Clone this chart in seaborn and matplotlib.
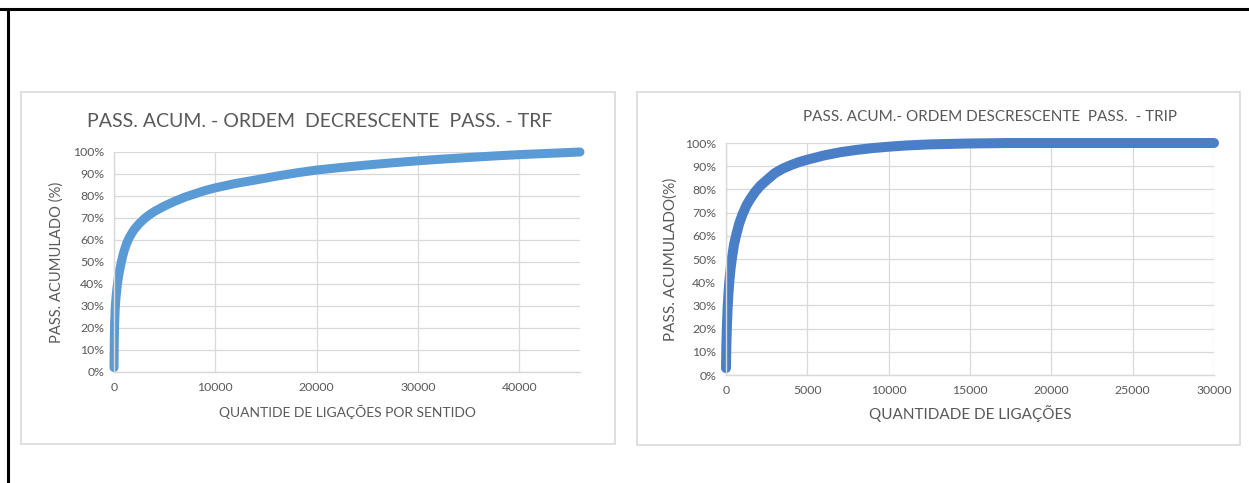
import matplotlib
matplotlib.use("Agg")
import matplotlib.pyplot as plt
from matplotlib.patches import Rectangle
from matplotlib.lines import Line2D
from matplotlib.ticker import PercentFormatter
import seaborn as sns
import pandas as pd

sns.set_theme(style="white")
plt.rcParams["font.family"] = ["Lato", "DejaVu Sans"]

# Cumulative passengers, links sorted by decreasing passenger count - TRF
trf_links = [0, 30, 60, 120, 200, 300, 400, 550, 700, 850, 1000, 1250, 1500,
             1750, 2000, 2500, 3000, 3500, 4000, 5000, 6000, 7000, 8000, 9000,
             10000, 12000, 14000, 16000, 18000, 20000, 22500, 25000, 27500,
             30000, 32500, 35000, 37500, 40000, 43000, 46000]
trf_pct = [0.02, 0.15, 0.22, 0.29, 0.34, 0.385, 0.42, 0.46, 0.495, 0.525,
           0.55, 0.585, 0.61, 0.63, 0.648, 0.675, 0.697, 0.715, 0.73, 0.755,
           0.776, 0.795, 0.81, 0.825, 0.837, 0.857, 0.873, 0.89, 0.905, 0.918,
           0.93, 0.941, 0.951, 0.96, 0.968, 0.975, 0.982, 0.988, 0.994, 1.0]

# Cumulative passengers, links sorted by decreasing passenger count - TRIP
trip_links = [0, 20, 50, 100, 150, 200, 300, 400, 500, 650, 800, 1000, 1250,
              1500, 1800, 2100, 2500, 3000, 3500, 4000, 4500, 5000, 6000,
              7000, 8000, 9000, 10000, 11000, 12500, 15000, 17500, 20000,
              25000, 30000]
trip_pct = [0.03, 0.12, 0.20, 0.29, 0.35, 0.40, 0.47, 0.52, 0.565, 0.61,
            0.65, 0.69, 0.73, 0.76, 0.79, 0.815, 0.84, 0.87, 0.89, 0.905,
            0.918, 0.928, 0.946, 0.96, 0.97, 0.978, 0.984, 0.989, 0.994,
            0.998, 1.0, 1.0, 1.0, 1.0]

y_ticks = [i / 10 for i in range(11)]
trf_xticks = [0, 10000, 20000, 30000, 40000]
trip_xticks = [0, 5000, 10000, 15000, 20000, 25000, 30000]

TEXT = "#595959"
GRID = "#D9D9D9"

W, H = 1249, 483
fig = plt.figure(figsize=(W / 100, H / 100), dpi=100)
fig.patch.set_facecolor("white")


def px_rect(x0, y0, x1, y1):
    return [x0 / W, 1 - y1 / H, (x1 - x0) / W, (y1 - y0) / H]


# outer page frame (top and left rules)
fig.add_artist(Line2D([0, 1], [1 - 9 / H, 1 - 9 / H], color="black", lw=2.2,
                      transform=fig.transFigure))
fig.add_artist(Line2D([8 / W, 8 / W], [0, 1 - 9 / H], color="black", lw=2.2,
                      transform=fig.transFigure))

# chart frames
for x0, y0, x1, y1 in [(21, 92, 615, 444), (637, 92, 1240, 445)]:
    fig.add_artist(Rectangle((x0 / W, 1 - y1 / H), (x1 - x0) / W, (y1 - y0) / H,
                             transform=fig.transFigure, facecolor="white",
                             edgecolor=GRID, lw=1.2, zorder=0))


def style_axes(ax, xlim, xticks, labelsize):
    ax.set_xlim(*xlim)
    ax.set_ylim(0, 1)
    ax.set_xticks(xticks)
    ax.set_yticks(y_ticks)
    ax.yaxis.set_major_formatter(PercentFormatter(1.0, decimals=0))
    ax.grid(True, color=GRID, lw=0.9)
    ax.set_axisbelow(True)
    for s in ["top", "right"]:
        ax.spines[s].set_visible(False)
    for s in ["left", "bottom"]:
        ax.spines[s].set_color(GRID)
        ax.spines[s].set_linewidth(1.0)
    ax.tick_params(axis="both", length=0, labelsize=labelsize,
                   labelcolor=TEXT, pad=7)
    ax.patch.set_alpha(0)


# TRF
ax1 = fig.add_axes(px_rect(114, 152, 580, 372))
df1 = pd.DataFrame({"links": trf_links, "pct": trf_pct})
sns.lineplot(data=df1, x="links", y="pct", ax=ax1, color="#5B9BD5", lw=6.5,
             solid_capstyle="round", clip_on=False)
style_axes(ax1, (0, 46000), trf_xticks, 8.8)
ax1.set_xlabel("QUANTIDE DE LIGAÇÕES POR SENTIDO", color=TEXT, fontsize=10,
               labelpad=9)
ax1.set_ylabel("PASS. ACUMULADO (%)", color=TEXT, fontsize=10.6, labelpad=7)
ax1.set_title("PASS. ACUM. - ORDEM  DECRESCENTE  PASS. - TRF", color=TEXT,
              fontsize=14, pad=18, x=0.442)

# TRIP
ax2 = fig.add_axes(px_rect(726, 143, 1214, 375))
df2 = pd.DataFrame({"links": trip_links, "pct": trip_pct})
sns.lineplot(data=df2, x="links", y="pct", ax=ax2, color="#4A7EC7", lw=7.2,
             solid_capstyle="round", clip_on=False)
style_axes(ax2, (0, 30000), trip_xticks, 8.8)
ax2.set_xlabel("QUANTIDADE DE LIGAÇÕES", color=TEXT, fontsize=11, labelpad=7)
ax2.set_ylabel("PASS. ACUMULADO(%)", color=TEXT, fontsize=11, labelpad=5)
ax2.set_title("PASS. ACUM.- ORDEM DESCRESCENTE  PASS.  - TRIP", color=TEXT,
              fontsize=11, pad=16, x=0.54)

fig.savefig("out.png", dpi=100, facecolor="white")
